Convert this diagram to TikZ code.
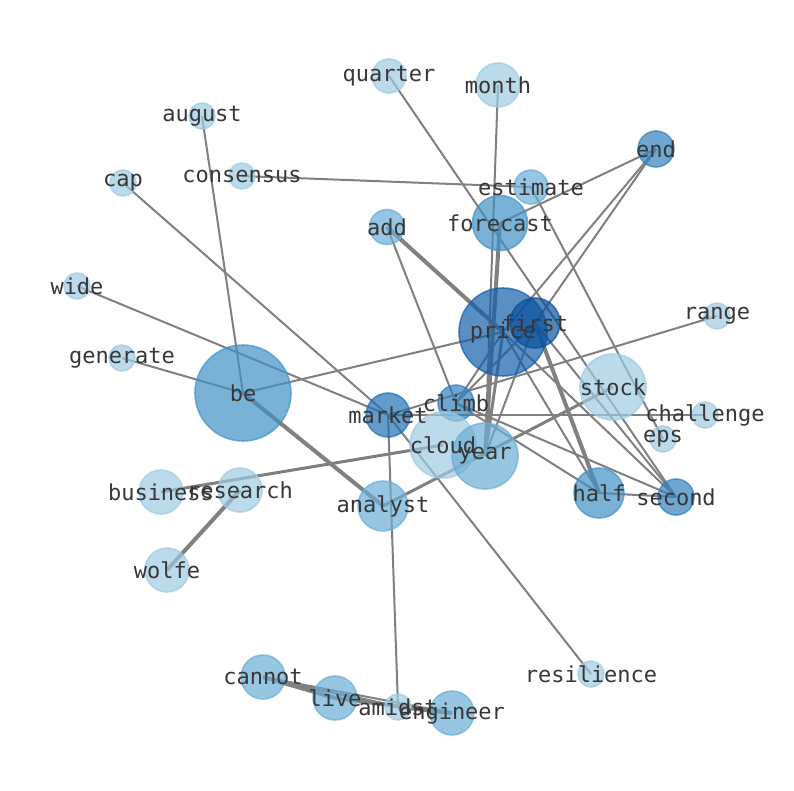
\documentclass[tikz,border=0pt]{standalone}
\usepackage{fontspec}
\setmainfont{DejaVu Sans Mono}
\pgfdeclarelayer{background}
\pgfsetlayers{background,main}
\definecolor{lvA}{RGB}{158,202,225}
\definecolor{lvB}{RGB}{107,174,214}
\definecolor{lvC}{RGB}{66,146,198}
\definecolor{lvD}{RGB}{50,130,190}
\definecolor{lvE}{RGB}{33,113,181}
\definecolor{lvF}{RGB}{20,95,170}
\definecolor{lvG}{RGB}{8,81,156}
\definecolor{edgegray}{RGB}{128,128,128}
\definecolor{labgray}{RGB}{55,55,55}
\begin{document}
\begin{tikzpicture}[x=1pt,y=-1pt,
  nd/.style 2 args={circle,inner sep=0pt,minimum size=#1pt,fill=#2,draw=#2,
    fill opacity=0.7,draw opacity=0.7,line width=1.6pt},
  lab/.style={inner sep=0pt,text=labgray,font=\fontsize{22}{24}\selectfont},
  ed/.style={draw=edgegray,line width=2pt},
  edm/.style={draw=edgegray,line width=3pt},
  edt/.style={draw=edgegray,line width=4pt}]
\useasboundingbox (0,0) rectangle (794,790);
% nodes
\node[nd={34}{lvA}] (quarter) at (389,76) {};
\node[nd={44}{lvA}] (month) at (498,85) {};
\node[nd={26}{lvA}] (august) at (202,116) {};
\node[nd={36}{lvD}] (end) at (656,149) {};
\node[nd={26}{lvA}] (cap) at (123,183) {};
\node[nd={26}{lvA}] (consensus) at (242,176) {};
\node[nd={34}{lvB}] (estimate) at (531,187) {};
\node[nd={55}{lvC}] (forecast) at (500,223) {};
\node[nd={35}{lvB}] (add) at (387,227) {};
\node[nd={26}{lvA}] (wide) at (77,286) {};
\node[nd={88}{lvF}] (price) at (503,332) {};
\node[nd={50}{lvG}] (first) at (535,323) {};
\node[nd={26}{lvA}] (range) at (717,316) {};
\node[nd={26}{lvA}] (generate) at (122,358) {};
\node[nd={96}{lvC}] (be) at (243,393) {};
\node[nd={66}{lvA}] (stock) at (613,387) {};
\node[nd={36}{lvD}] (climb) at (456,403) {};
\node[nd={44}{lvE}] (market) at (388,415) {};
\node[nd={26}{lvA}] (challenge) at (705,415) {};
\node[nd={26}{lvA}] (eps) at (663,439) {};
\node[nd={66}{lvA}] (cloud) at (443,445) {};
\node[nd={66}{lvB}] (year) at (485,456) {};
\node[nd={44}{lvA}] (business) at (161,492) {};
\node[nd={44}{lvA}] (research) at (240,490) {};
\node[nd={50}{lvC}] (half) at (599,493) {};
\node[nd={36}{lvD}] (second) at (676,497) {};
\node[nd={50}{lvB}] (analyst) at (383,506) {};
\node[nd={44}{lvA}] (wolfe) at (167,570) {};
\node[nd={44}{lvB}] (cannot) at (263,677) {};
\node[nd={44}{lvB}] (live) at (335,698) {};
\node[nd={26}{lvA}] (amidst) at (398,707) {};
\node[nd={44}{lvB}] (engineer) at (452,713) {};
\node[nd={26}{lvA}] (resilience) at (591,674) {};
% edges
\begin{pgfonlayer}{background}
\draw[ed] (quarter.center) -- (second.center);
\draw[ed] (month.center) -- (year.center);
\draw[ed] (august.center) -- (be.center);
\draw[ed] (cap.center) -- (market.center);
\draw[ed] (consensus.center) -- (estimate.center);
\draw[ed] (end.center) -- (forecast.center);
\draw[ed] (end.center) -- (first.center);
\draw[ed] (end.center) -- (price.center);
\draw[ed] (estimate.center) -- (eps.center);
\draw[edt] (add.center) -- (price.center);
\draw[ed] (add.center) -- (climb.center);
\draw[ed] (wide.center) -- (market.center);
\draw[ed] (generate.center) -- (be.center);
\draw[ed] (be.center) -- (price.center);
\draw[edt] (be.center) -- (analyst.center);
\draw[ed] (market.center) -- (range.center);
\draw[ed] (market.center) -- (challenge.center);
\draw[ed] (market.center) -- (amidst.center);
\draw[ed] (resilience.center) -- (market.center);
\draw[edm] (business.center) -- (cloud.center);
\draw[edt] (research.center) -- (wolfe.center);
\draw[edm] (analyst.center) -- (stock.center);
\draw[edt] (cannot.center) -- (live.center);
\draw[edm] (cannot.center) -- (amidst.center);
\draw[ed] (cannot.center) -- (engineer.center);
\draw[edt] (live.center) -- (engineer.center);
\draw[edt] (amidst.center) -- (engineer.center);
\draw[edt] (first.center) -- (half.center);
\draw[ed] (price.center) -- (half.center);
\draw[ed] (first.center) -- (second.center);
\draw[ed] (price.center) -- (second.center);
\draw[ed] (half.center) -- (second.center);
\draw[ed] (climb.center) -- (second.center);
\draw[ed] (climb.center) -- (half.center);
\draw[edt] (forecast.center) -- (year.center);
\draw[ed] (year.center) -- (first.center);
\draw[edm] (year.center) -- (price.center);
\draw[ed] (climb.center) -- (first.center);
\draw[ed] (climb.center) -- (price.center);
\end{pgfonlayer}
% labels
\foreach \n in {quarter,month,august,end,cap,consensus,estimate,forecast,add,wide,price,first,range,generate,be,stock,climb,market,challenge,eps,cloud,year,business,research,half,second,analyst,wolfe,cannot,live,amidst,engineer,resilience}
  \node[lab] (\n-l) at (\n) {\n};
\end{tikzpicture}
\end{document}
